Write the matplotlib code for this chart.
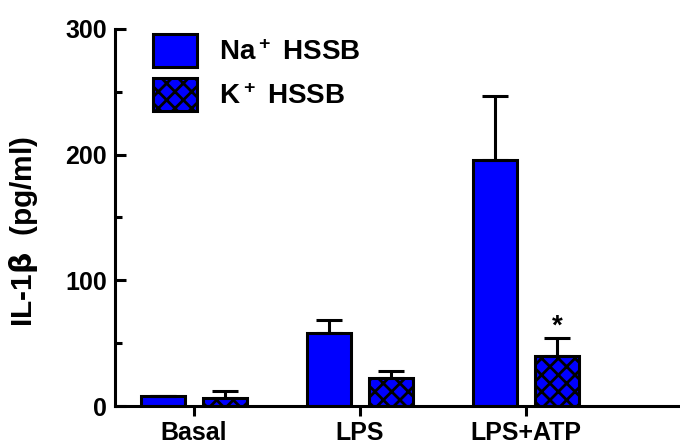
import matplotlib
matplotlib.use("Agg")
import matplotlib.pyplot as plt
import numpy as np

categories = ["Basal", "LPS", "LPS+ATP"]
na_values = [8, 58, 196]
na_err = [0, 10.5, 51]
k_values = [6, 22, 40]
k_err = [6, 6, 14]
series_labels = [r"Na$\mathregular{^+}$ HSSB", r"K$\mathregular{^+}$ HSSB"]
yticks_major = [0, 100, 200, 300]
yticks_minor = [50, 150, 250]

plt.rcParams['font.family'] = ['Liberation Sans', 'DejaVu Sans']
plt.rcParams['font.weight'] = 'bold'
plt.rcParams['mathtext.fontset'] = 'dejavusans'
plt.rcParams['hatch.linewidth'] = 2.0
plt.rcParams['hatch.color'] = 'black'

fig = plt.figure(figsize=(6.8, 4.46), dpi=100)
ax = fig.add_axes([115/680, 1-406/446, 1-115/680, (406-29)/446])

x = np.arange(len(categories))
off = 0.187
w = 0.26
lw = 2.2
blue = '#0000ff'

ekw = dict(elinewidth=lw, capthick=lw, ecolor='black')
b1 = ax.bar(x - off, na_values, w, color=blue, edgecolor='black', linewidth=lw,
            yerr=[np.zeros(3), na_err], capsize=9.5, error_kw=ekw, label=series_labels[0], zorder=2)
b2 = ax.bar(x + off, k_values, w, color=blue, edgecolor='black', linewidth=lw, hatch='xx',
            yerr=[np.zeros(3), k_err], capsize=9.5, error_kw=ekw, label=series_labels[1], zorder=2)

ax.text(x[2] + off, k_values[2] + k_err[2] - 1, '*', ha='center', va='bottom', fontsize=20, fontweight='bold')

ax.set_xlim(-0.476, 2.928)
ax.set_ylim(0, 300)
ax.set_xticks(x)
ax.set_xticklabels(categories, fontsize=18, fontweight='bold')
ax.set_yticks(yticks_major)
ax.set_yticks(yticks_minor, minor=True)
ax.set_yticklabels([str(v) for v in yticks_major], fontsize=18, fontweight='bold')
ax.tick_params(axis='y', which='major', direction='in', length=8, width=lw, pad=6)
ax.tick_params(axis='y', which='minor', direction='in', length=5, width=lw)
ax.tick_params(axis='x', which='major', direction='out', length=7, width=lw, pad=4)

for s in ['top', 'right']:
    ax.spines[s].set_visible(False)
for s in ['left', 'bottom']:
    ax.spines[s].set_linewidth(lw)

ax.set_ylabel(r'IL-1$\mathrm{\beta}$  (pg/ml)', fontsize=21.5, fontweight='bold')
ax.yaxis.set_label_coords(40/680, 1-231/446, transform=fig.transFigure)

ax.legend(loc='upper left', bbox_to_anchor=(153/680, 1-34/446), bbox_transform=fig.transFigure,
          frameon=False, handlelength=1.58, handleheight=1.45,
          handletextpad=0.8, labelspacing=0.4, borderpad=0, borderaxespad=0,
          prop={'weight': 'bold', 'size': 20})

fig.savefig('out.png', dpi=100)
